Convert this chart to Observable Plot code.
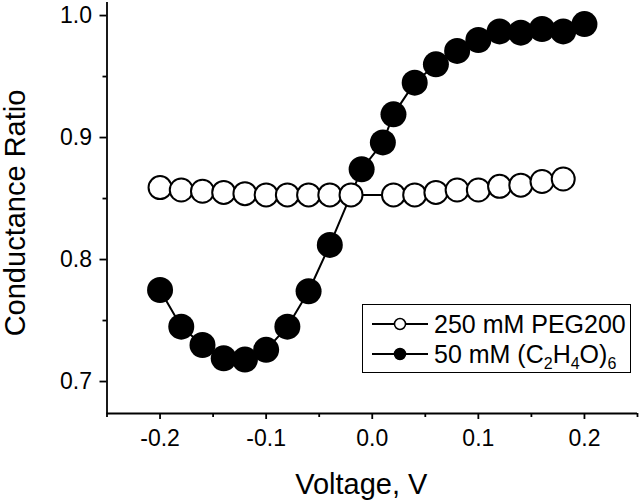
<!DOCTYPE html>
<html>
<head>
<meta charset="utf-8">
<script src="https://cdn.jsdelivr.net/npm/d3@7"></script>
<script src="https://cdn.jsdelivr.net/npm/@observablehq/plot@0.6"></script>
<style>
  html, body { margin: 0; padding: 0; background: #fff; }
  #wrap { position: relative; width: 640px; height: 503px; font-family: "Liberation Sans", Arial, sans-serif; }
  #legend { position: absolute; left: 362px; top: 304px; width: 267px; height: 67px;
            border: 1.6px solid #000; background: #fff; color: #000; font-size: 25px; }
  .row { position: absolute; left: 0; height: 30px; display: flex; align-items: center; white-space: nowrap; }
  .row svg { margin-left: 8px; margin-right: 5px; }
  sub { font-size: 16px; vertical-align: -6px; line-height: 0; }
</style>
</head>
<body>
<div id="wrap"></div>
<script>
// ---- data ----
const pegVoltage = [-0.2,-0.18,-0.16,-0.14,-0.12,-0.1,-0.08,-0.06,-0.04,-0.02,0.02,0.04,0.06,0.08,0.1,0.12,0.14,0.16,0.18];
const pegRatio   = [0.859,0.857,0.856,0.855,0.854,0.853,0.853,0.853,0.853,0.853,0.853,0.853,0.855,0.857,0.857,0.860,0.861,0.864,0.866];
const ethVoltage = [-0.2,-0.18,-0.16,-0.14,-0.12,-0.1,-0.08,-0.06,-0.04,-0.01,0.01,0.02,0.04,0.06,0.08,0.1,0.12,0.14,0.16,0.18,0.2];
const ethRatio   = [0.775,0.745,0.730,0.719,0.718,0.726,0.745,0.774,0.812,0.874,0.896,0.919,0.945,0.960,0.971,0.980,0.987,0.986,0.989,0.987,0.993];
const xMajor = [-0.2,-0.1,0.0,0.1,0.2];
const xMinor = [-0.25,-0.15,-0.05,0.05,0.15,0.25];
const yMajor = [0.7,0.8,0.9,1.0];
const yMinor = [0.75,0.85,0.95];
const xDomain = [-0.25, 0.25];
const yDomain = [0.6738, 1.0107];
const seriesNames = ["250 mM PEG200", "50 mM (C<sub>2</sub>H<sub>4</sub>O)<sub>6</sub>"];

const peg = pegVoltage.map((v, i) => ({v, r: pegRatio[i]}));
const eth = ethVoltage.map((v, i) => ({v, r: ethRatio[i]}));
const fmt = d => d.toFixed(1);

const chart = Plot.plot({
  width: 640,
  height: 503,
  marginLeft: 106.5,
  marginRight: 3,
  marginTop: 2,
  marginBottom: 90,
  style: {fontFamily: "'Liberation Sans', Arial, sans-serif", fontSize: "23px", color: "#000", background: "#fff"},
  x: {domain: xDomain},
  y: {domain: yDomain},
  marks: [
    Plot.ruleX([xDomain[0]], {stroke: "#000", strokeWidth: 1.8}),
    Plot.ruleY([yDomain[0]], {stroke: "#000", strokeWidth: 1.8}),
    Plot.axisX(xMajor, {anchor: "bottom", tickSize: 6, tickPadding: 10, tickFormat: fmt, strokeWidth: 1.8, label: null}),
    Plot.axisX(xMinor, {anchor: "bottom", tickSize: 4, tickFormat: () => "", strokeWidth: 1.8, label: null}),
    Plot.axisY(yMajor, {anchor: "left", tickSize: 7, tickPadding: 8, tickFormat: fmt, strokeWidth: 1.8, label: null}),
    Plot.axisY(yMinor, {anchor: "left", tickSize: 4, tickFormat: () => "", strokeWidth: 1.8, label: null}),
    Plot.text(["Voltage, V"], {frameAnchor: "bottom", dx: -11, dy: 80, fontSize: 29, fill: "#000"}),
    Plot.text(["Conductance Ratio"], {frameAnchor: "left", textAnchor: "middle", rotate: -90, dx: -91, dy: 5, fontSize: 29, fill: "#000"}),
    Plot.line(eth, {x: "v", y: "r", stroke: "#000", strokeWidth: 2}),
    Plot.dot(eth, {x: "v", y: "r", r: 13, fill: "#000", stroke: "none"}),
    Plot.line(peg, {x: "v", y: "r", stroke: "#000", strokeWidth: 2}),
    Plot.dot(peg, {x: "v", y: "r", r: 11.5, fill: "#fff", stroke: "#000", strokeWidth: 2})
  ]
});
const wrap = document.getElementById("wrap");
wrap.appendChild(chart);

const legend = document.createElement("div");
legend.id = "legend";
seriesNames.forEach((name, i) => {
  const row = document.createElement("div");
  row.className = "row";
  row.style.top = (i === 0 ? 4 : 34) + "px";
  const fill = i === 0 ? "#fff" : "#000";
  row.innerHTML = `<svg width="58" height="20"><line x1="1" x2="57" y1="10" y2="10" stroke="#000" stroke-width="2"/>` +
    `<circle cx="29" cy="10" r="5.5" fill="${fill}" stroke="#000" stroke-width="1.5"/></svg><span>${name}</span>`;
  legend.appendChild(row);
});
wrap.appendChild(legend);
</script>
</body>
</html>
